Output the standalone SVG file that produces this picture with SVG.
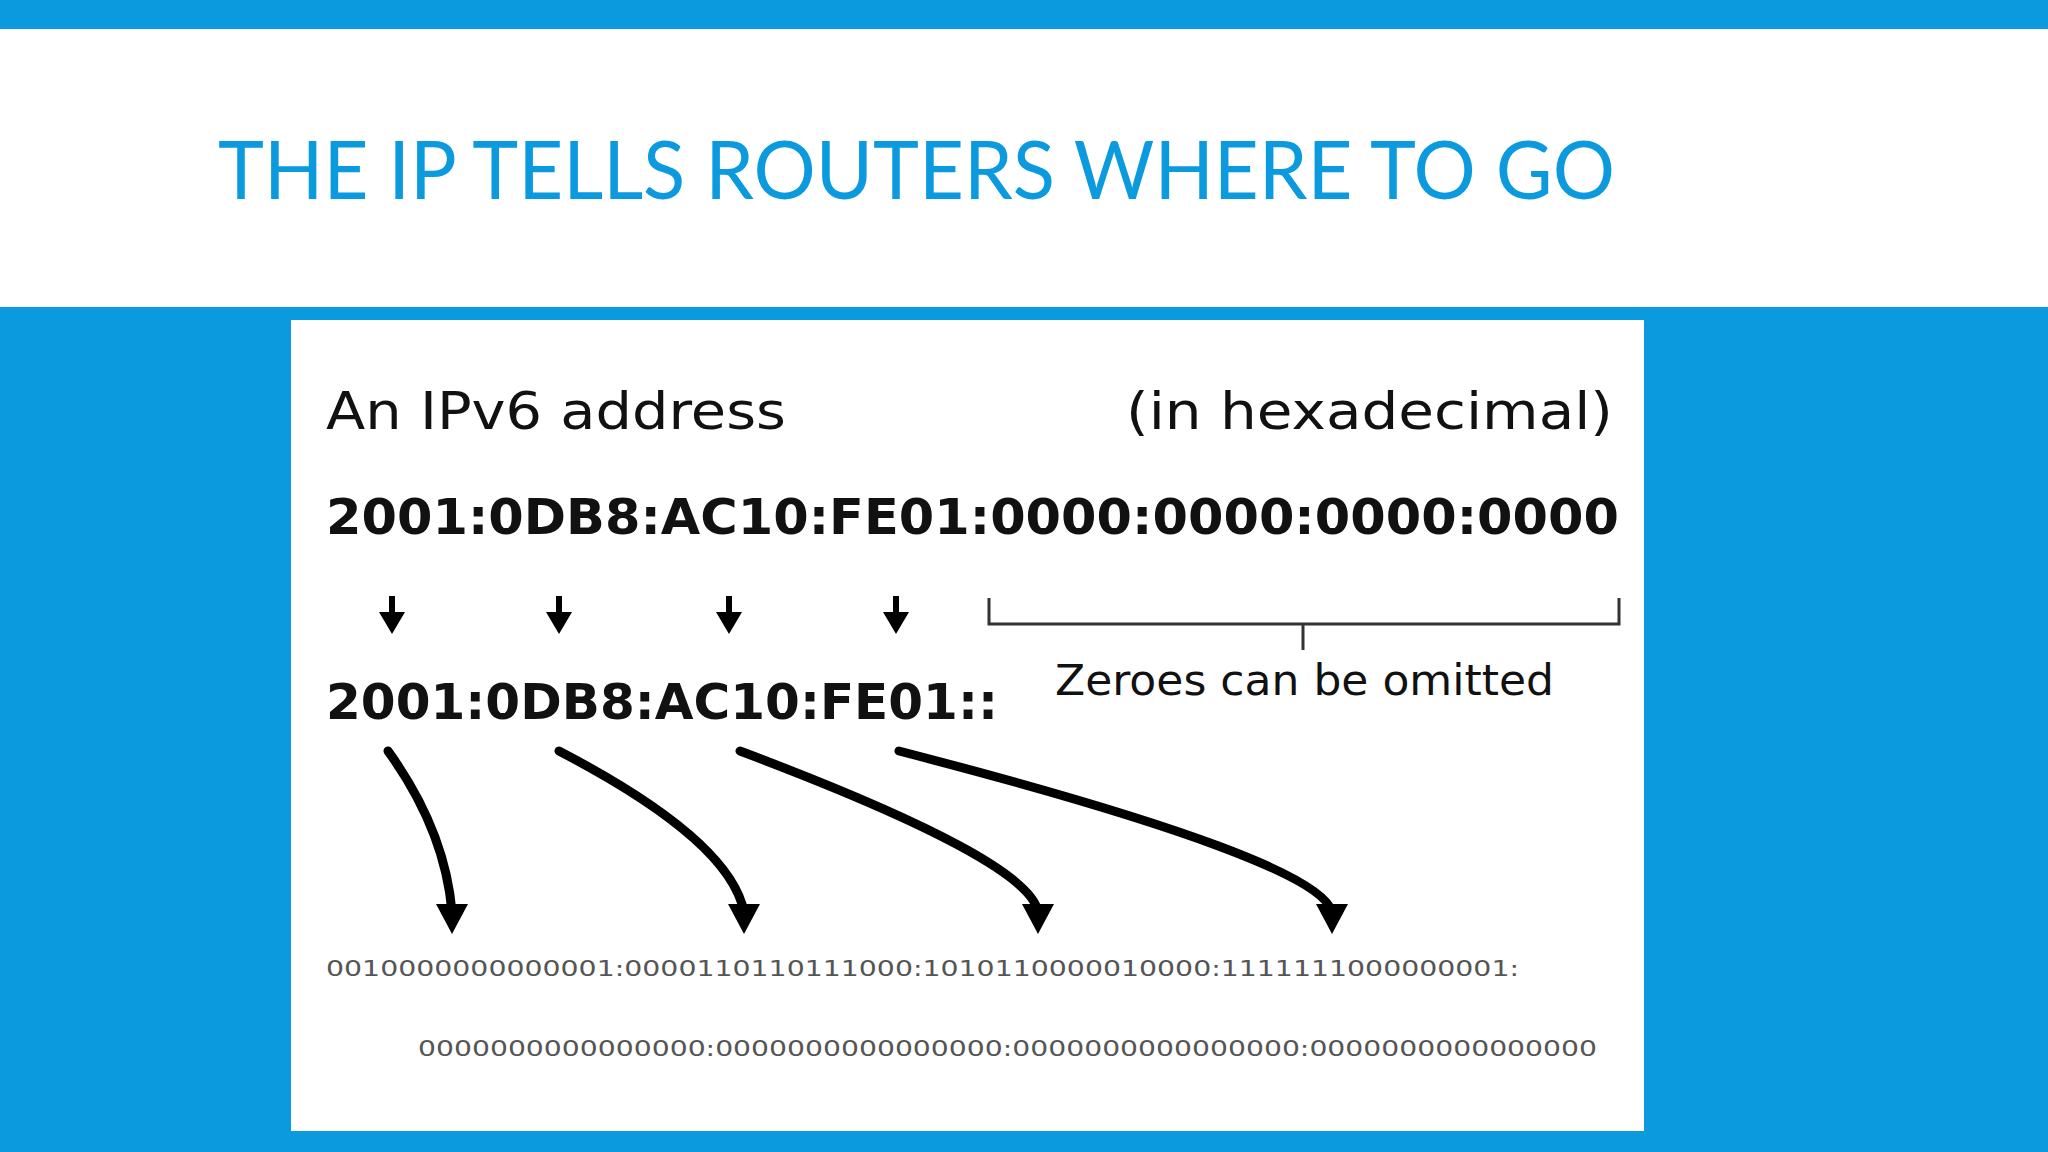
<svg xmlns="http://www.w3.org/2000/svg" width="2048" height="1152" viewBox="0 0 2048 1152">
<defs>
<style>
.t{font-family:"DejaVu Sans",sans-serif;fill:#111}
.b{font-family:"DejaVu Sans",sans-serif;font-weight:bold;fill:#111;font-size:50px}
.bin{font-family:"DejaVu Sans",sans-serif;fill:#555;font-size:22px}
.c{fill:none;stroke:#000;stroke-width:9;stroke-linecap:round}
</style>
<marker id="ah" viewBox="0 0 10 10" refX="5" refY="8" markerWidth="3.6" markerHeight="3.6" orient="auto-start-reverse" markerUnits="strokeWidth">
<path d="M0,0 L10,0 L5,10 Z" transform="rotate(0)" fill="#000"/>
</marker>
<marker id="ah2" viewBox="0 0 10 10" refX="5" refY="5" markerWidth="3.2" markerHeight="3.2" orient="auto" markerUnits="strokeWidth">
<path d="M0,0 L10,5 L0,10 Z" fill="#000"/>
</marker>
</defs>
<rect width="2048" height="1152" fill="#0b9ade"/>
<rect x="0" y="29" width="2048" height="278" fill="#fff"/>
<text x="218" y="199" font-family="Lato, 'Open Sans', sans-serif" font-size="82" fill="#0b9ade" textLength="1397" lengthAdjust="spacingAndGlyphs">THE IP TELLS ROUTERS WHERE TO GO</text>
<g id="panel"><rect x="291" y="320" width="1353" height="811" fill="#fff"/></g>
<g id="labels">
<text class="t" x="326" y="429" font-size="52" textLength="460" lengthAdjust="spacingAndGlyphs">An IPv6 address</text>
<text class="t" x="1613" y="429" font-size="52" text-anchor="end" textLength="487" lengthAdjust="spacingAndGlyphs">(in hexadecimal)</text>
<text class="b" x="326" y="534" textLength="1293" lengthAdjust="spacingAndGlyphs">2001:0DB8:AC10:FE01:0000:0000:0000:0000</text>
<text class="b" x="326" y="719" textLength="672" lengthAdjust="spacingAndGlyphs">2001:0DB8:AC10:FE01::</text>
<text class="t" x="1055" y="695" font-size="42" textLength="499" lengthAdjust="spacingAndGlyphs">Zeroes can be omitted</text>
<text class="bin" x="326" y="976" textLength="1193" lengthAdjust="spacingAndGlyphs">0010000000000001:0000110110111000:1010110000010000:1111111000000001:</text>
<text class="bin" x="418" y="1056" textLength="1179" lengthAdjust="spacingAndGlyphs">0000000000000000:0000000000000000:0000000000000000:0000000000000000</text>
</g>
<g id="bracket" fill="none" stroke="#333" stroke-width="3">
<path d="M989,598 V624 H1619 V598 M1303,624 V650"/>
</g>
<g id="connectors" fill="#000">
<g stroke="#000" stroke-width="6">
<line x1="392" y1="596" x2="392" y2="616"/><line x1="559" y1="596" x2="559" y2="616"/><line x1="729" y1="596" x2="729" y2="616"/><line x1="896" y1="596" x2="896" y2="616"/>
</g>
<path d="M379,612 h26 l-13,22 z M546,612 h26 l-13,22 z M716,612 h26 l-13,22 z M883,612 h26 l-13,22 z"/>
<path class="c" d="M388,751 Q445,830 452,912"/>
<path class="c" d="M559,751 Q730,840 744,912"/>
<path class="c" d="M740,751 Q1030,860 1038,912"/>
<path class="c" d="M899,751 Q1320,860 1332,912"/>
<path d="M436,904 h32 l-16,30 z M728,904 h32 l-16,30 z M1022,904 h32 l-16,30 z M1316,904 h32 l-16,30 z"/>
</g>
</svg>
